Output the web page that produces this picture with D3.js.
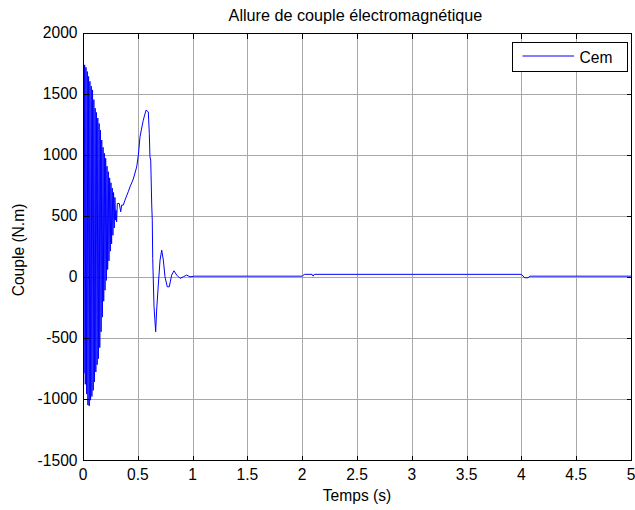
<!DOCTYPE html>
<html><head><meta charset="utf-8">
<script src="https://cdn.jsdelivr.net/npm/d3@7"></script>
<style>body{margin:0;background:#fff}svg{display:block;font-family:"Liberation Sans",Arial,sans-serif}</style>
</head><body><svg id="c" width="635" height="510"></svg>
<script>
const timeS = [
  0, 0.003, 0.009, 0.015, 0.021, 0.027, 0.033, 0.039, 0.045, 0.051,
  0.057, 0.063, 0.069, 0.075, 0.081, 0.087, 0.093, 0.099, 0.105, 0.111,
  0.117, 0.123, 0.129, 0.135, 0.141, 0.147, 0.153, 0.159, 0.165, 0.171,
  0.177, 0.183, 0.189, 0.195, 0.201, 0.207, 0.213, 0.219, 0.225, 0.231,
  0.237, 0.243, 0.249, 0.255, 0.261, 0.267, 0.273, 0.279, 0.285, 0.291,
  0.297, 0.301, 0.307, 0.313, 0.331, 0.344, 0.353, 0.368, 0.383, 0.413,
  0.429, 0.459, 0.49, 0.505, 0.52, 0.55, 0.575, 0.596, 0.605, 0.611,
  0.618, 0.627, 0.632, 0.636, 0.648, 0.663, 0.672, 0.687, 0.703, 0.718,
  0.733, 0.748, 0.769, 0.787, 0.809, 0.83, 0.855, 0.885, 0.915, 0.946,
  0.976, 1.02, 2.0, 2.02, 2.09, 2.1, 2.11, 4.0, 4.03, 4.06,
  4.08, 5.0
];
const cemNm = [
  0, 1600, -790, 1735, -880, 1715, -960, 1680, -1050, 1640,
  -1058, 1600, -1010, 1560, -980, 1530, -930, 1450, -860, 1380,
  -780, 1345, -720, 1300, -670, 1255, -580, 1200, -450, 1120,
  -330, 1060, -200, 1010, -110, 970, -30, 905, 60, 860,
  130, 810, 210, 770, 270, 725, 340, 690, 400, 650,
  464, 545, 450, 600, 600, 532, 587, 587, 628, 696,
  737, 800, 900, 996, 1146, 1282, 1364, 1350, 1173, 982,
  955, 587, 464, 150, -245, -450, -272, -68, 137, 218,
  137, 0, -82, -82, 14, 49, 14, -13, 0, 14,
  0, 5, 5, 20, 20, 5, 20, 20, -8, -8,
  5, 5
];
const xTicks = [0, 0.5, 1, 1.5, 2, 2.5, 3, 3.5, 4, 4.5, 5];
const xTickLabels = ["0", "0.5", "1", "1.5", "2", "2.5", "3", "3.5", "4", "4.5", "5"];
const yTicks = [-1500, -1000, -500, 0, 500, 1000, 1500, 2000];
const yTickLabels = ["-1500", "-1000", "-500", "0", "500", "1000", "1500", "2000"];
const titleText = "Allure de couple électromagnétique";
const xLabel = "Temps (s)";
const yLabel = "Couple (N.m)";
const seriesName = "Cem";

const svg = d3.select("#c");
const L = 83, R = 631, T = 32.5, B = 460;
const x = d3.scaleLinear().domain([0, 5]).range([L, R]);
const y = d3.scaleLinear().domain([-1500, 2000]).range([B, T]);
const fs = "15.6px";
const px = v => Math.round(v) + 0.5;

svg.append("rect").attr("x", 0).attr("y", 0).attr("width", 635).attr("height", 510).attr("fill", "#fff");
svg.append("rect").attr("x", px(L)).attr("y", px(T)).attr("width", px(R) - px(L)).attr("height", px(B) - px(T)).attr("fill", "#fff");

const grid = svg.append("g").attr("stroke", "#a8a8a8").attr("stroke-width", 1).attr("shape-rendering", "crispEdges");
xTicks.slice(1, -1).forEach(t => grid.append("line").attr("x1", px(x(t))).attr("x2", px(x(t))).attr("y1", px(T)).attr("y2", px(B)));
yTicks.slice(1, -1).forEach(t => grid.append("line").attr("y1", px(y(t))).attr("y2", px(y(t))).attr("x1", px(L)).attr("x2", px(R)));

svg.append("defs").append("clipPath").attr("id", "clip").append("rect")
  .attr("x", L).attr("y", T).attr("width", R - L).attr("height", B - T);

const data = timeS.map((t, i) => [t, cemNm[i]]);
svg.append("path").datum(data).attr("clip-path", "url(#clip)")
  .attr("fill", "none").attr("stroke", "#0000ff").attr("stroke-width", 1)
  .attr("d", d3.line().x(d => x(d[0])).y(d => y(d[1])));

const ax = svg.append("g").attr("stroke", "#000").attr("stroke-width", 1).attr("shape-rendering", "crispEdges");
const tl = 5;
xTicks.forEach(t => {
  const xx = px(x(t));
  ax.append("line").attr("x1", xx).attr("x2", xx).attr("y1", px(B)).attr("y2", px(B) - tl);
  ax.append("line").attr("x1", xx).attr("x2", xx).attr("y1", px(T)).attr("y2", px(T) + tl);
});
yTicks.forEach(t => {
  const yy = px(y(t));
  ax.append("line").attr("y1", yy).attr("y2", yy).attr("x1", px(L)).attr("x2", px(L) + tl);
  ax.append("line").attr("y1", yy).attr("y2", yy).attr("x1", px(R)).attr("x2", px(R) - tl);
});
ax.append("rect").attr("x", px(L)).attr("y", px(T)).attr("width", px(R) - px(L)).attr("height", px(B) - px(T)).attr("fill", "none");

const tx = svg.append("g").attr("font-size", fs).attr("fill", "#000");
xTicks.forEach((t, i) => tx.append("text").attr("x", x(t)).attr("y", 480).attr("text-anchor", "middle").text(xTickLabels[i]));
yTicks.forEach((t, i) => tx.append("text").attr("x", 77.5).attr("y", y(t) + 5.5).attr("text-anchor", "end").text(yTickLabels[i]));

svg.append("text").attr("x", 355.5).attr("y", 21).attr("text-anchor", "middle").attr("font-size", "16.2px").text(titleText);
svg.append("text").attr("x", 357).attr("y", 501).attr("text-anchor", "middle").attr("font-size", fs).text(xLabel);
svg.append("text").attr("transform", "translate(24,250) rotate(-90)").attr("text-anchor", "middle").attr("font-size", fs).text(yLabel);

const lg = svg.append("g");
lg.append("rect").attr("x", 512.5).attr("y", 42.5).attr("width", 115).attr("height", 29)
  .attr("fill", "#fff").attr("stroke", "#000").attr("stroke-width", 1).attr("shape-rendering", "crispEdges");
lg.append("line").attr("x1", 522.5).attr("x2", 574).attr("y1", 56).attr("y2", 56).attr("stroke", "#0000ff").attr("stroke-width", 1);
lg.append("text").attr("x", 579.5).attr("y", 63).attr("font-size", fs).text(seriesName);
</script></body></html>
